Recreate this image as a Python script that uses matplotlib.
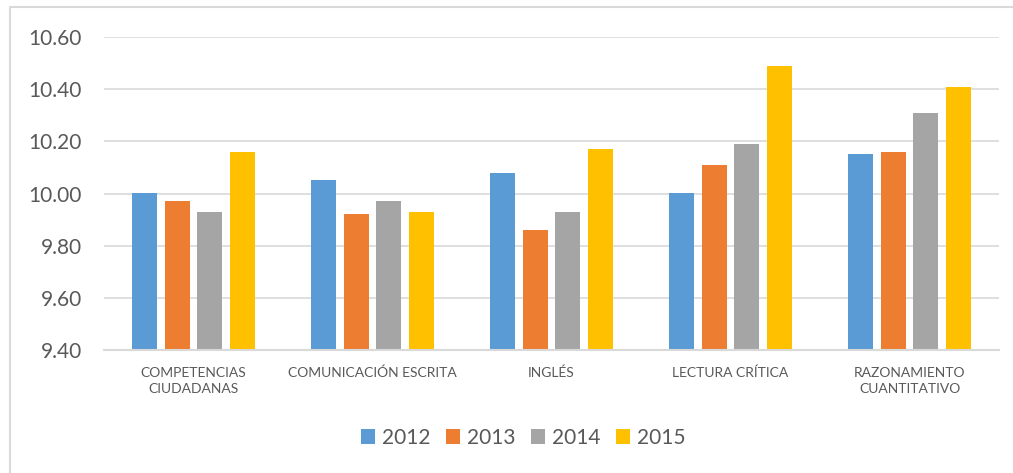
import numpy as np
import matplotlib
matplotlib.use('Agg')
import matplotlib.pyplot as plt
from matplotlib.lines import Line2D

plt.rcParams['font.family'] = ['Lato', 'DejaVu Sans']

# data
categories = ['COMPETENCIAS\nCIUDADANAS', 'COMUNICACIÓN ESCRITA', 'INGLÉS',
              'LECTURA CRÍTICA', 'RAZONAMIENTO\nCUANTITATIVO']
years = ['2012', '2013', '2014', '2015']
v2012 = [10.00, 10.05, 10.08, 10.00, 10.15]
v2013 = [9.97, 9.92, 9.86, 10.11, 10.16]
v2014 = [9.93, 9.97, 9.93, 10.19, 10.31]
v2015 = [10.16, 9.93, 10.17, 10.49, 10.41]
series = [v2012, v2013, v2014, v2015]
colors = ['#5B9BD5', '#ED7D31', '#A5A5A5', '#FFC000']
yticks = [9.40, 9.60, 9.80, 10.00, 10.20, 10.40, 10.60]

W, H = 1013, 473
fig = plt.figure(figsize=(W / 100, H / 100), dpi=100)
ax = fig.add_axes([104 / W, 1 - 350 / H, (999 - 104) / W, (350 - 37) / H])

x = np.arange(len(categories))
bw = 0.142
step = 0.182
base = 9.40
for i, (vals, c) in enumerate(zip(series, colors)):
    h = [v - base for v in vals]
    ax.bar(x + (i - 1.5) * step, h, bw, bottom=base, color=c, label=years[i],
           zorder=3)

ax.set_xlim(-0.5, 4.5)
ax.set_ylim(9.40, 10.60)
ax.set_yticks(yticks)
ax.set_yticklabels(['%.2f' % t for t in yticks], fontsize=15, color='#595959')
ax.set_xticks(x)
ax.set_xticklabels(categories, fontsize=10, color='#595959', linespacing=1.45)
ax.tick_params(axis='both', length=0)
ax.tick_params(axis='y', pad=16)
ax.tick_params(axis='x', pad=12)
ax.grid(axis='y', color='#D9D9D9', linewidth=1.2, zorder=0)
for s in ['top', 'right', 'left']:
    ax.spines[s].set_visible(False)
ax.spines['bottom'].set_color('#D9D9D9')
ax.spines['bottom'].set_linewidth(1.5)
ax.spines['bottom'].set_zorder(4)

leg = fig.legend(loc='center', ncol=4, bbox_to_anchor=(523 / W, 1 - 438 / H),
                 frameon=False, fontsize=15, handlelength=0.7, handleheight=0.7,
                 handletextpad=0.3, columnspacing=0.75)
for t in leg.get_texts():
    t.set_color('#595959')

# chart border
fig.add_artist(Line2D([10 / W, 10 / W, 1], [0, 1 - 7 / H, 1 - 7 / H],
                      transform=fig.transFigure, color='#D9D9D9', linewidth=1.5))

plt.savefig('out.png', dpi=100)
